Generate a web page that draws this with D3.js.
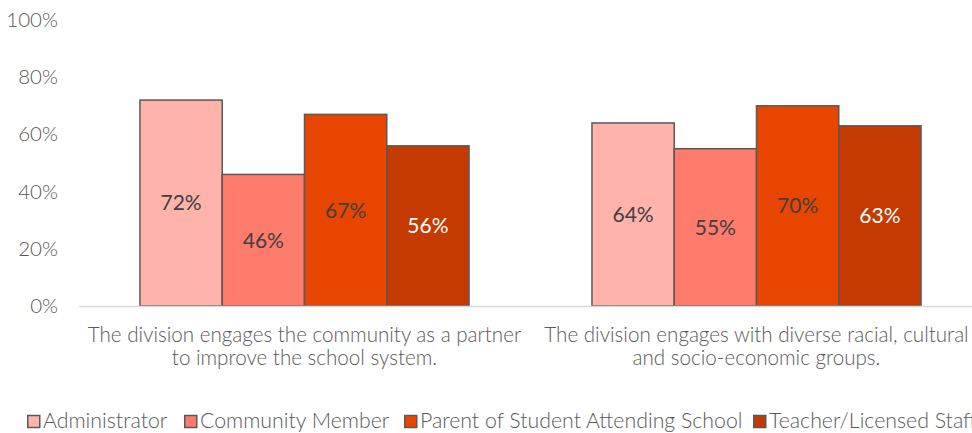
<!DOCTYPE html>
<html>
<head>
<meta charset="utf-8">
<script src="https://cdn.jsdelivr.net/npm/d3@7"></script>
<style>
  html, body { margin: 0; padding: 0; background: #fff; }
  svg { display: block; font-family: Lato, "Open Sans", sans-serif; }
</style>
</head>
<body>
<svg id="chart" width="972" height="433"></svg>
<script>
// Survey statements (x categories), each drawn on two lines
const categories = [
  ["The division engages the community as a partner", "to improve the school system."],
  ["The division engages with diverse racial, cultural", "and socio-economic groups."]
];
const seriesNames = ["Administrator", "Community Member", "Parent of Student Attending School", "Teacher/Licensed Staff"];
const administrator = [72, 64];
const communityMember = [46, 55];
const parent = [67, 70];
const teacher = [56, 63];
const yTicks = [0, 20, 40, 60, 80, 100];

const seriesValues = [administrator, communityMember, parent, teacher];
const colors = ["#FFB3AB", "#FF7B6B", "#E84500", "#C43A00"];
const labelColors = ["#404040", "#404040", "#404040", "#ffffff"];

const svg = d3.select("#chart");
const margin = { left: 78.5, right: -10.5, top: 20, bottom: 127 };
const W = 972, H = 433;

const x0 = d3.scaleBand()
  .domain(d3.range(categories.length))
  .range([margin.left, W - margin.right])
  .paddingInner(0)
  .paddingOuter(0);

const groupWidth = x0.bandwidth() * 0.728;
const x1 = d3.scaleBand()
  .domain(d3.range(seriesNames.length))
  .range([0, groupWidth])
  .padding(0);

const y = d3.scaleLinear().domain([0, 100]).range([H - margin.bottom, margin.top]);

// y-axis tick labels
const yAxis = d3.axisLeft(y).tickValues(yTicks).tickFormat(d => d + "%").tickSize(0).tickPadding(0);
const yg = svg.append("g").attr("transform", `translate(58,0)`).call(yAxis);
yg.select(".domain").remove();
yg.selectAll("text")
  .attr("fill", "#595959")
  .style("font-size", "20.5px")
  .style("font-weight", 300)
  .style("font-family", "Lato, sans-serif");

// bars
const groups = svg.append("g").selectAll("g")
  .data(categories.map((c, i) => i))
  .join("g")
  .attr("transform", i => `translate(${x0(i) + (x0.bandwidth() - groupWidth) / 2},0)`);

groups.each(function(ci) {
  const g = d3.select(this);
  seriesValues.forEach((vals, si) => {
    const v = vals[ci];
    g.append("rect")
      .attr("x", x1(si))
      .attr("y", y(v))
      .attr("width", x1.bandwidth())
      .attr("height", y(0) - y(v))
      .attr("fill", colors[si])
      .attr("stroke", "#595959")
      .attr("stroke-width", 1.5);
  });
});

// baseline
svg.append("line")
  .attr("x1", 79).attr("x2", W)
  .attr("y1", y(0) + 0.5).attr("y2", y(0) + 0.5)
  .attr("stroke", "#d9d9d9").attr("stroke-width", 1.5);

// value labels centred in each bar
groups.each(function(ci) {
  const g = d3.select(this);
  seriesValues.forEach((vals, si) => {
    const v = vals[ci];
    g.append("text")
      .attr("x", x1(si) + x1.bandwidth() / 2)
      .attr("y", (y(v) + y(0)) / 2)
      .attr("dy", "0.35em")
      .attr("text-anchor", "middle")
      .attr("fill", labelColors[si])
      .style("font-size", "21px")
      .style("font-weight", 400)
      .text(v + "%");
  });
});

// category labels
categories.forEach((lines, i) => {
  const cx = x0(i) + x0.bandwidth() / 2;
  const t = svg.append("text")
    .attr("x", cx)
    .attr("y", 342)
    .attr("text-anchor", "middle")
    .attr("fill", "#595959")
    .style("font-size", "20.6px")
    .style("font-weight", 300);
  lines.forEach((l, k) => {
    t.append("tspan")
      .attr("x", cx)
      .attr("dy", k === 0 ? 0 : 23)
      .text(l);
  });
});

// legend
const legend = svg.append("g").attr("transform", "translate(0,421)");
const legendX = [27, 184, 404, 753];
seriesNames.forEach((name, i) => {
  const g = legend.append("g").attr("transform", `translate(${legendX[i]},0)`);
  g.append("rect")
    .attr("x", 0.75).attr("y", -5.5)
    .attr("width", 12).attr("height", 12)
    .attr("fill", colors[i])
    .attr("stroke", "#595959").attr("stroke-width", 1.5);
  g.append("text")
    .attr("x", 16).attr("y", 0).attr("dy", "0.35em")
    .attr("fill", "#595959")
    .style("font-size", "21.3px")
    .style("font-weight", 300)
    .text(name);
});
</script>
</body>
</html>
